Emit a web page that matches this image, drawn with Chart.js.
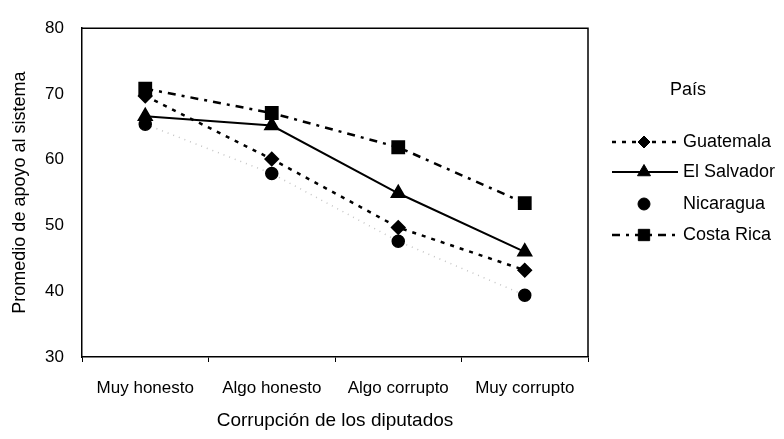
<!DOCTYPE html>
<html>
<head>
<meta charset="utf-8">
<script src="https://cdn.jsdelivr.net/npm/chart.js@4/dist/chart.umd.min.js"></script>
<style>
  html, body { margin: 0; padding: 0; background: #fff; }
  #wrap { width: 784px; height: 439px; }
</style>
</head>
<body>
<div id="wrap"><canvas id="myChart" width="784" height="439"></canvas></div>
<script>
var categories = ['Muy honesto', 'Algo honesto', 'Algo corrupto', 'Muy corrupto'];
var guatemala = [69.7, 60.1, 49.7, 43.2];
var elSalvador = [66.6, 65.2, 54.9, 46.0];
var nicaragua = [65.4, 57.9, 47.6, 39.4];
var costaRica = [70.8, 67.1, 61.9, 53.4];
var yTicks = [30, 40, 50, 60, 70, 80];

var FONT = "'Liberation Sans', Arial, sans-serif";

// top and right frame lines of the plot box
var framePlugin = {
    id: 'frame',
    afterDraw: function(chart) {
        var a = chart.chartArea;
        var ctx = chart.ctx;
        ctx.save();
        ctx.strokeStyle = '#000';
        ctx.lineWidth = 1.5;
        ctx.beginPath();
        ctx.moveTo(a.left, a.top);
        ctx.lineTo(a.right, a.top);
        ctx.lineTo(a.right, a.bottom);
        ctx.stroke();
        ctx.restore();
    }
};

// legend with line style + marker, like the original
var legendPlugin = {
    id: 'sideLegend',
    afterDraw: function(chart) {
        var ctx = chart.ctx;
        ctx.save();
        ctx.fillStyle = '#000';
        ctx.font = '18px ' + FONT;
        ctx.textBaseline = 'middle';
        ctx.textAlign = 'left';
        ctx.fillText('País', 670, 90);
        var rows = [142, 172, 204, 235];
        chart.data.datasets.forEach(function(ds, i) {
            var y = rows[i];
            if (ds.legendLine) {
                ctx.save();
                ctx.strokeStyle = ds.borderColor;
                ctx.lineWidth = ds.borderWidth;
                ctx.setLineDash(ds.borderDash || []);
                ctx.beginPath();
                ctx.moveTo(612, y);
                ctx.lineTo(678, y);
                ctx.stroke();
                ctx.restore();
            }
            ctx.save();
            ctx.fillStyle = '#000';
            ctx.strokeStyle = '#000';
            ctx.lineWidth = 1;
            ctx.setLineDash([]);
            Chart.helpers.drawPoint(ctx, {pointStyle: ds.pointStyle, radius: ds.pointRadius, borderWidth: 1, rotation: 0}, 644, y);
            ctx.restore();
            ctx.fillStyle = '#000';
            ctx.font = '18px ' + FONT;
            ctx.fillText(ds.label, 683, y);
        });
        ctx.restore();
    }
};

var ctx = document.getElementById('myChart').getContext('2d');
var myChart = new Chart(ctx, {
    type: 'line',
    data: {
        labels: categories,
        datasets: [{
            label: 'Guatemala',
            data: guatemala,
            borderColor: '#000',
            borderWidth: 2.5,
            borderDash: [4, 6],
            pointStyle: 'rectRot',
            pointRadius: 6,
            pointBackgroundColor: '#000',
            pointBorderColor: '#000',
            legendLine: true
        }, {
            label: 'El Salvador',
            data: elSalvador,
            borderColor: '#000',
            borderWidth: 2,
            pointStyle: 'triangle',
            pointRadius: 7.5,
            pointBackgroundColor: '#000',
            pointBorderColor: '#000',
            legendLine: true
        }, {
            label: 'Nicaragua',
            data: nicaragua,
            borderColor: '#c4c4c4',
            borderWidth: 1.5,
            borderDash: [1, 5],
            pointStyle: 'circle',
            pointRadius: 6,
            pointBackgroundColor: '#000',
            pointBorderColor: '#000',
            legendLine: false
        }, {
            label: 'Costa Rica',
            data: costaRica,
            borderColor: '#000',
            borderWidth: 2.5,
            borderDash: [8, 6, 3, 6],
            pointStyle: 'rect',
            pointRadius: 8,
            pointBackgroundColor: '#000',
            pointBorderColor: '#000',
            legendLine: true
        }]
    },
    options: {
        responsive: false,
        animation: false,
        layout: { padding: { left: 0, top: 17, right: 196, bottom: 0 } },
        plugins: {
            legend: { display: false },
            tooltip: { enabled: false }
        },
        scales: {
            x: {
                offset: true,
                afterFit: function(s) { s.height = 82; },
                grid: { display: true, drawOnChartArea: false, offset: true, tickLength: 5, color: '#000', lineWidth: 1 },
                border: { display: true, color: '#000', width: 1.5 },
                ticks: { color: '#000', padding: 16, font: { family: FONT, size: 17 }, maxRotation: 0 },
                title: {
                    display: true,
                    text: 'Corrupción de los diputados',
                    color: '#000',
                    font: { family: FONT, size: 19 },
                    padding: { top: 4, bottom: 7 }
                }
            },
            y: {
                min: 30,
                max: 80,
                afterFit: function(s) { s.width = 82; },
                afterBuildTicks: function(s) { s.ticks = yTicks.map(function(v) { return { value: v }; }); },
                grid: { display: false, drawTicks: false },
                border: { display: true, color: '#000', width: 1.5 },
                ticks: { color: '#000', padding: 18, font: { family: FONT, size: 17 } },
                title: {
                    display: true,
                    text: 'Promedio de apoyo al sistema',
                    color: '#000',
                    font: { family: FONT, size: 18 },
                    padding: { top: 9, bottom: 0 }
                }
            }
        }
    },
    plugins: [framePlugin, legendPlugin]
});
</script>
</body>
</html>
